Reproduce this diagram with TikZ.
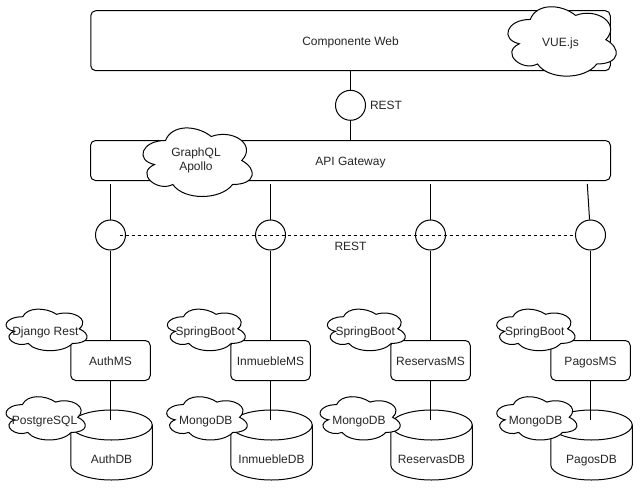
\documentclass[tikz,border=0pt]{standalone}
\usepackage{fontspec}
\setmainfont{Liberation Sans}
\usetikzlibrary{positioning,calc}

\tikzset{
  txt/.style={font=\fontsize{12}{14}\selectfont, text=black!85, inner sep=0pt, text height=9pt, text depth=0pt},
  cloudtxt/.style={txt, yshift=-2.5pt},
  cloudtwo/.style={font=\fontsize{12}{13.5}\selectfont, text=black!85, inner sep=0pt, align=center},
  box/.style={txt, draw, rounded corners=5pt, fill=white},
  port/.style={draw, circle, minimum size=30pt, inner sep=0pt},
  msbox/.style={box, minimum width=79.5pt, minimum height=40pt},
}

% cloud of draw.io: [style]{name}{x}{y}{w}{h}{text}
\newcommand{\techcloud}[7][cloudtxt]{%
  \begin{scope}[shift={(#3,#4)}, x=#5pt, y=-#6pt]
    \draw[fill=white] (0.25,0.25) .. controls (0.05,0.25) and (0,0.5) .. (0.16,0.55)
      .. controls (0,0.66) and (0.18,0.9) .. (0.31,0.8)
      .. controls (0.4,1) and (0.7,1) .. (0.8,0.8)
      .. controls (1,0.8) and (1,0.6) .. (0.875,0.5)
      .. controls (1,0.3) and (0.8,0.1) .. (0.625,0.2)
      .. controls (0.5,0.05) and (0.3,0.05) .. (0.25,0.25) -- cycle;
    \node[#1] (#2) at (0.5,0.5) {#7};
  \end{scope}}

% database: {name}{left}{top}{text}
\newcommand{\dbcyl}[4]{%
  \begin{scope}[shift={(#2,#3)}]
    \draw[fill=white] (0,15) -- (0,55) .. controls (0,63.28) and (18.25,70) .. (40.75,70)
      .. controls (63.25,70) and (81.5,63.28) .. (81.5,55) -- (81.5,15)
      .. controls (81.5,6.72) and (63.25,0) .. (40.75,0)
      .. controls (18.25,0) and (0,6.72) .. (0,15) -- cycle;
    \draw (0,15) .. controls (0,23.28) and (18.25,30) .. (40.75,30)
      .. controls (63.25,30) and (81.5,23.28) .. (81.5,15);
    \coordinate (#1top) at (39.75,10);
    \node[txt] (#1) at (40.75,49) {#4};
  \end{scope}}

\begin{document}
\begin{tikzpicture}[x=1pt, y=-1pt, line width=1pt]
	\path[use as bounding box, fill=white] (0,0) rectangle (642,492);

	% frontend and gateway
	\node[box, minimum width=519.5pt, minimum height=60pt] (web) at (350.5,40.7) {Componente Web};
	\node[box, minimum width=520pt, minimum height=40pt] (gateway) at (350.5,160.5) {API Gateway};
	\node[port] (rest) at (350.5,105.3) {};
	\node[txt, right=3.5pt of rest] (restlbl) {REST};
	\draw (web) -- (rest);
	\draw (rest) -- (gateway);

	% REST bus
	\node[port] (auth) at (110.5,235) {};
	\node[port] (inmueble) at (270.5,235) {};
	\node[port] (reservas) at (430.5,235) {};
	\node[port] (pagos) at (590.5,235) {};
	\coordinate (gauth) at ($(gateway.south -| auth)+(0,3)$);
	\coordinate (ginmueble) at ($(gateway.south -| inmueble)+(0,3)$);
	\coordinate (greservas) at ($(gateway.south -| reservas)+(0,3)$);
	\coordinate (gpagos) at ($(gateway.south -| pagos)+(-3.2,3)$);
	\draw (gauth) -- (auth);
	\draw (ginmueble) -- (inmueble);
	\draw (greservas) -- (reservas);
	\draw (gpagos) -- (pagos);
	\coordinate (busstart) at ($(auth)+(9,0)$);
	\draw[dash pattern=on 3pt off 3pt] (busstart) -- (pagos.west);
	\node[txt] (restbus) at (350.5,245.5) {REST};

	% microservices
	\node[msbox] (authms) at (110.5,360.5) {AuthMS};
	\node[msbox] (inmueblems) at (270.5,360.5) {InmuebleMS};
	\node[msbox] (reservasms) at (430.5,360.5) {ReservasMS};
	\node[msbox] (pagosms) at (590.5,360.5) {PagosMS};
	\draw (auth) -- (authms);
	\draw (inmueble) -- (inmueblems);
	\draw (reservas) -- (reservasms);
	\draw (pagos) -- (pagosms);

	% databases
	\dbcyl{authdb}{70.75}{410}{AuthDB}
	\dbcyl{inmuebledb}{230.75}{410}{InmuebleDB}
	\dbcyl{reservasdb}{390.75}{410}{ReservasDB}
	\dbcyl{pagosdb}{550.75}{410}{PagosDB}
	\draw (authms) -- (authdbtop);
	\draw (inmueblems) -- (inmuebledbtop);
	\draw (reservasms) -- (reservasdbtop);
	\draw (pagosms) -- (pagosdbtop);

	% technologies
	\techcloud{vue}{500}{-0.8}{121}{81}{VUE.js}
	\techcloud[cloudtwo]{graphql}{135}{120.5}{122}{80}{GraphQL\\Apollo}
	\techcloud{django}{0.1}{304.6}{90.5}{48.5}{Django Rest}
	\techcloud{spring1}{161.7}{304.6}{87}{48.5}{SpringBoot}
	\techcloud{spring2}{321.7}{304.6}{87}{48.5}{SpringBoot}
	\techcloud{spring3}{491}{304.6}{87.5}{48.5}{SpringBoot}
	\techcloud{postgres}{0.3}{392}{88.5}{50.5}{PostgreSQL}
	\techcloud{mongo1}{160.8}{392}{90}{50.5}{MongoDB}
	\techcloud{mongo2}{314.2}{392}{89.5}{50.5}{MongoDB}
	\techcloud{mongo3}{490.9}{392}{89.5}{50.5}{MongoDB}
\end{tikzpicture}
\end{document}
